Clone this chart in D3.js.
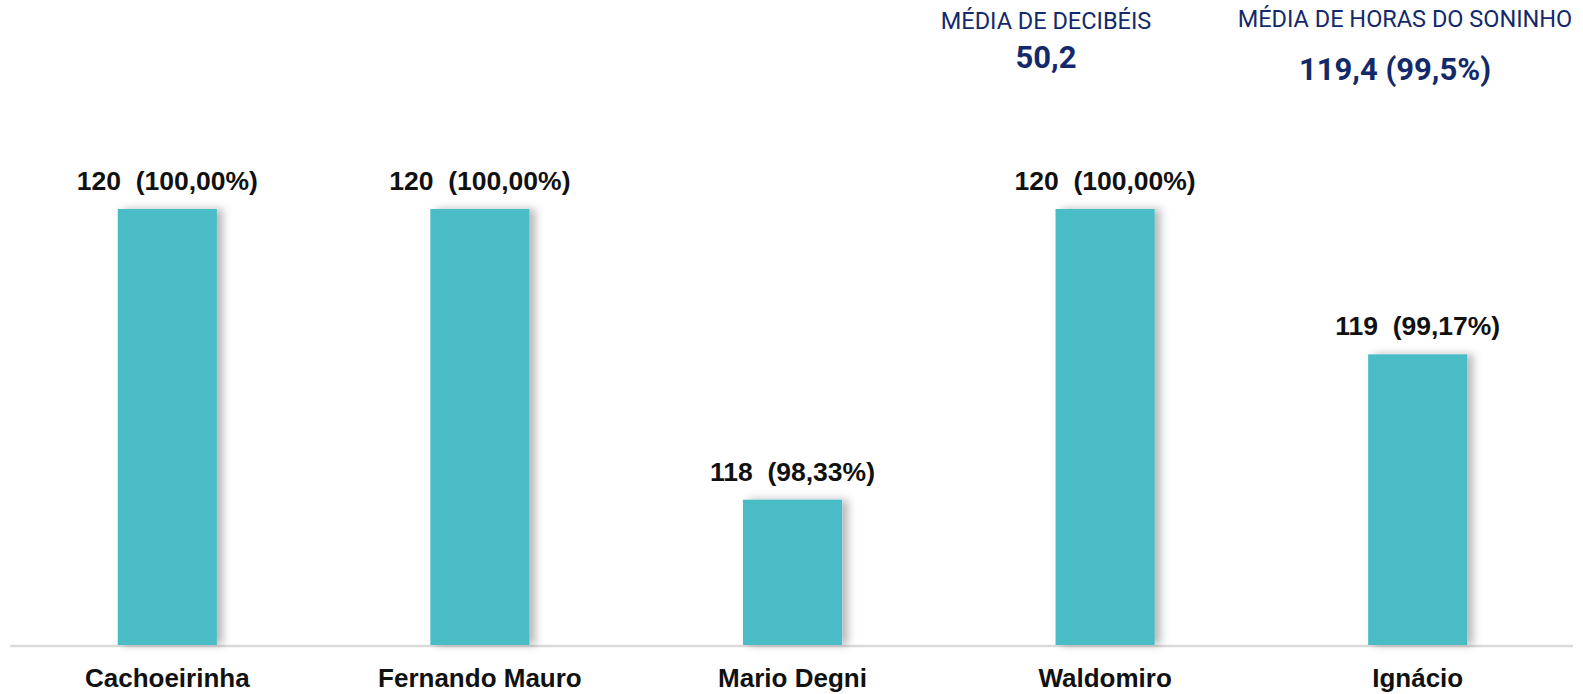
<!DOCTYPE html>
<html>
<head>
<meta charset="utf-8">
<script src="https://cdn.jsdelivr.net/npm/d3@7"></script>
<style>
  html, body { margin: 0; padding: 0; background: #fff; }
</style>
</head>
<body>
<div id="app"></div>
<script>
(function (d3) {
  'use strict'

  const categories = ['Cachoeirinha', 'Fernando Mauro', 'Mario Degni', 'Waldomiro', 'Ignácio']
  const values = [120, 120, 118, 120, 119]
  const percents = ['100,00%', '100,00%', '98,33%', '100,00%', '99,17%']

  const summaryTitles = ['MÉDIA DE DECIBÉIS', 'MÉDIA DE HORAS DO SONINHO']
  const summaryValues = ['50,2', '119,4 (99,5%)']

  const w = 1583
  const h = 694
  const baseY = 645
  const topY = 209

  const svg = d3.select('#app')
    .append('svg')
    .attr('width', w)
    .attr('height', h)

  const defs = svg.append('defs')
  const shadow = defs.append('filter')
    .attr('id', 'shadow')
    .attr('x', '-10%').attr('y', '-10%')
    .attr('width', '140%').attr('height', '120%')
  shadow.append('feDropShadow')
    .attr('dx', 6)
    .attr('dy', 0)
    .attr('stdDeviation', 4)
    .attr('flood-color', '#000')
    .attr('flood-opacity', 0.28)

  const x = d3.scaleBand()
    .domain(categories)
    .range([11, 1574])
    .paddingInner(0.683)
    .paddingOuter(0.3415)

  const y = d3.scaleLinear()
    .domain([117, 120])
    .range([baseY, topY])

  const data = categories.map((c, i) => ({ name: c, value: values[i], pct: percents[i] }))

  // baseline
  svg.append('line')
    .attr('x1', 10).attr('x2', 1573)
    .attr('y1', baseY + 1).attr('y2', baseY + 1)
    .attr('stroke', '#dadada')
    .attr('stroke-width', 2.5)

  svg.append('g')
    .selectAll('rect')
    .data(data)
    .enter().append('rect')
    .attr('x', d => x(d.name))
    .attr('y', d => y(d.value))
    .attr('width', x.bandwidth())
    .attr('height', d => baseY - y(d.value))
    .attr('fill', '#48bcc6')
    .attr('filter', 'url(#shadow)')

  svg.append('g')
    .selectAll('text')
    .data(data)
    .enter().append('text')
    .attr('x', d => x(d.name) + x.bandwidth() / 2)
    .attr('y', d => y(d.value) - 19)
    .attr('text-anchor', 'middle')
    .style('white-space', 'pre')
    .style('font-family', '"Liberation Sans", Arial, sans-serif')
    .style('font-weight', 'bold')
    .style('font-size', '26.5px')
    .attr('fill', '#111')
    .text(d => d.value + '  (' + d.pct + ')')

  svg.append('g')
    .selectAll('text')
    .data(data)
    .enter().append('text')
    .attr('x', d => x(d.name) + x.bandwidth() / 2)
    .attr('y', 687)
    .attr('text-anchor', 'middle')
    .style('font-family', '"Liberation Sans", Arial, sans-serif')
    .style('font-weight', 'bold')
    .style('font-size', '26px')
    .attr('fill', '#111')
    .text(d => d.name)

  // summary boxes at the top
  const summaryX = [1046, 1405]
  const titleY = [29, 27]
  const valueX = [1046, 1395]
  const valueY = [68, 80]

  summaryTitles.forEach(function (t, i) {
    svg.append('text')
      .attr('x', summaryX[i])
      .attr('y', titleY[i])
      .attr('text-anchor', 'middle')
      .style('font-family', 'Roboto, sans-serif')
      .style('font-size', '23.5px')
      .attr('fill', '#13296a')
      .text(t)
    svg.append('text')
      .attr('x', valueX[i])
      .attr('y', valueY[i])
      .attr('text-anchor', 'middle')
      .style('font-family', 'Roboto, sans-serif')
      .style('font-weight', 'bold')
      .style('font-size', '31px')
      .attr('fill', '#13296a')
      .text(summaryValues[i])
  })

}(d3))
</script>
</body>
</html>
